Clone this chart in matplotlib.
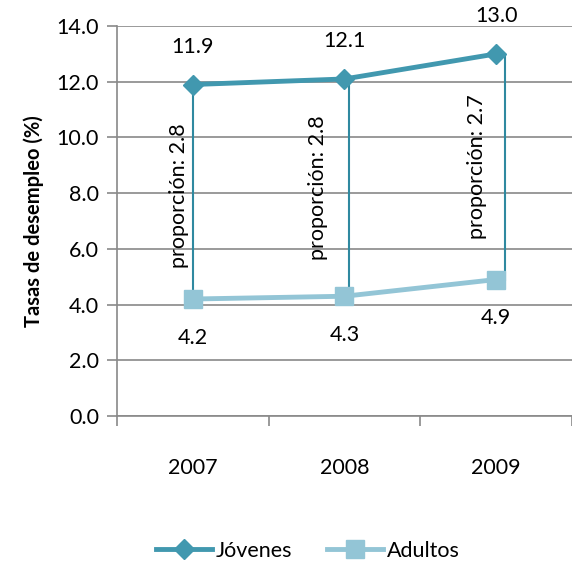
import matplotlib.pyplot as plt
import numpy as np

# datos
anios = ['2007', '2008', '2009']
jovenes = [11.9, 12.1, 13.0]
adultos = [4.2, 4.3, 4.9]
proporcion = [2.8, 2.8, 2.7]

plt.rcParams['font.family'] = ['Lato', 'DejaVu Sans']

col_jov = '#4198AF'
col_adu = '#93C5D6'
col_drop = '#2F89A0'
gris = '#898989'

fig = plt.figure(figsize=(5.72, 5.66), dpi=100)
ax = fig.add_axes([0.2045, 0.265, 0.7955, 0.689])

x = np.arange(len(anios))

# lineas de caida entre series
for i in x:
    ax.plot([i + 0.03 * i, i + 0.03 * i], [jovenes[i], adultos[i]], color=col_drop, lw=1.5, zorder=2)

ax.plot(x, adultos, color=col_adu, lw=3.5, marker='s', ms=13, label='Adultos', zorder=3)
ax.plot(x, jovenes, color=col_jov, lw=3.5, marker='D', ms=10.5, label='Jóvenes', zorder=4)

fs = 15.5
# etiquetas de datos
for i in x:
    ax.annotate(f'{jovenes[i]:.1f}', (i, jovenes[i]), xytext=(0, 27), textcoords='offset points',
                ha='center', va='center', fontsize=fs)
    ax.annotate(f'{adultos[i]:.1f}', (i, adultos[i]), xytext=(0, -28), textcoords='offset points',
                ha='center', va='center', fontsize=fs)

# etiquetas de proporcion
desp = [(-10, -3), (-19, 0), (-14, 0)]
for i in x:
    mid = (jovenes[i] + adultos[i]) / 2
    ax.annotate(f'proporción: {proporcion[i]}', (i, mid), xytext=desp[i], textcoords='offset points',
                rotation=90, ha='center', va='center', fontsize=fs)

ax.set_ylim(0, 14)
ax.set_xlim(-0.49, 2.484)
ax.set_yticks(np.arange(0, 14.1, 2))
ax.set_yticklabels([f'{v:.1f}' for v in np.arange(0, 14.1, 2)], fontsize=fs)
ax.yaxis.grid(True, color=gris, lw=1.2)
ax.set_axisbelow(True)

ax.set_xticks([-0.5, 0.5, 1.5, 2.5])
ax.set_xticklabels([])
ax.set_xticks(x, minor=True)
ax.set_xticklabels(anios, minor=True, fontsize=fs)
ax.tick_params(axis='x', which='major', length=7, color=gris, width=1.2, direction='out')
ax.tick_params(axis='x', which='minor', length=0, pad=30)
ax.tick_params(axis='y', length=7, color=gris, width=1.2, pad=6)

for s in ['top', 'right']:
    ax.spines[s].set_visible(False)
for s in ['left', 'bottom']:
    ax.spines[s].set_color(gris)
    ax.spines[s].set_linewidth(1.2)

ax.set_ylabel('Tasas de desempleo (%)', fontsize=14.5, fontweight='bold', labelpad=9)

h, l = ax.get_legend_handles_labels()
fig.legend(h[::-1], l[::-1], loc='center', bbox_to_anchor=(0.538, 0.027), ncol=2, frameon=False,
           fontsize=fs, handlelength=2.6, columnspacing=1.6, handletextpad=0.2)

fig.savefig('out.png', dpi=100)
